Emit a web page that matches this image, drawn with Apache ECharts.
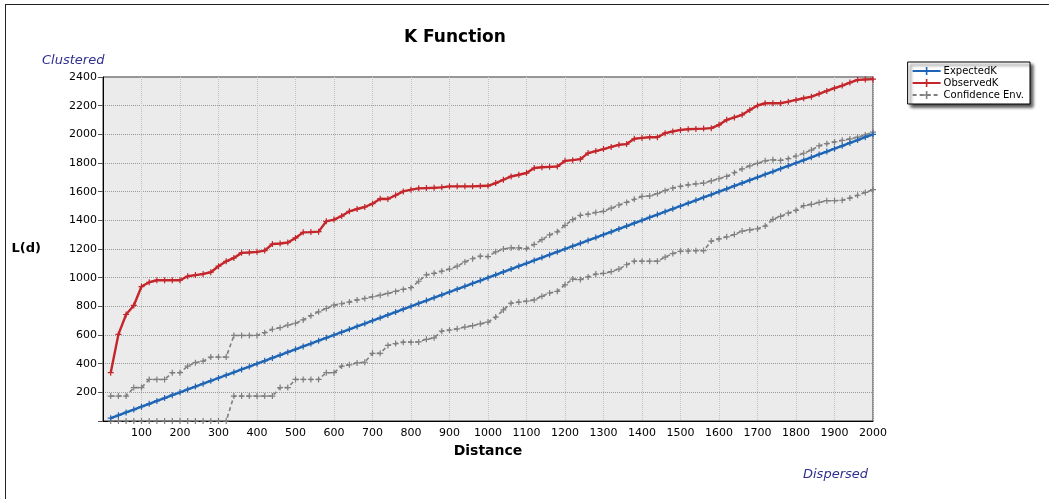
<!DOCTYPE html>
<html>
<head>
<meta charset="utf-8">
<script src="https://cdn.jsdelivr.net/npm/echarts@6/dist/echarts.min.js"></script>
<style>
html,body{margin:0;padding:0;background:#fff;}
#chart{width:1049px;height:499px;}
</style>
</head>
<body>
<div id="chart"></div>
<script>
// Distance bands
const distances = [20,40,60,80,100,120,140,160,180,200,220,240,260,280,300,320,340,360,380,400,
420,440,460,480,500,520,540,560,580,600,620,640,660,680,700,720,740,760,780,800,
820,840,860,880,900,920,940,960,980,1000,1020,1040,1060,1080,1100,1120,1140,1160,1180,1200,
1220,1240,1260,1280,1300,1320,1340,1360,1380,1400,1420,1440,1460,1480,1500,1520,1540,1560,1580,1600,
1620,1640,1660,1680,1700,1720,1740,1760,1780,1800,1820,1840,1860,1880,1900,1920,1940,1960,1980,2000];

const expectedK = [20,40,60,80,100,120,140,160,180,200,220,240,260,280,300,320,340,360,380,400,
420,440,460,480,500,520,540,560,580,600,620,640,660,680,700,720,740,760,780,800,
820,840,860,880,900,920,940,960,980,1000,1020,1040,1060,1080,1100,1120,1140,1160,1180,1200,
1220,1240,1260,1280,1300,1320,1340,1360,1380,1400,1420,1440,1460,1480,1500,1520,1540,1560,1580,1600,
1620,1640,1660,1680,1700,1720,1740,1760,1780,1800,1820,1840,1860,1880,1900,1920,1940,1960,1980,2000];

const observedK = [337,604,743,806,938,968,982,982,982,982,1010,1018,1026,1038,1080,1114,1138,1173,1176,1180,
1189,1235,1238,1245,1277,1316,1318,1321,1393,1405,1430,1463,1479,1493,1516,1551,1549,1575,1602,1614,
1623,1625,1627,1630,1637,1637,1637,1637,1640,1641,1660,1683,1706,1718,1730,1765,1770,1773,1776,1815,
1820,1827,1869,1883,1897,1912,1927,1932,1969,1975,1980,1980,2008,2020,2031,2035,2038,2040,2043,2066,
2101,2118,2136,2170,2201,2217,2217,2217,2228,2240,2252,2263,2283,2303,2322,2340,2361,2380,2383,2385];

const confUpper = [174,174,174,233,233,290,290,290,337,337,383,407,418,446,446,446,597,597,597,597,
616,640,651,669,682,705,735,762,785,808,818,830,845,855,867,878,890,904,918,930,
975,1020,1030,1045,1060,1080,1110,1132,1150,1147,1180,1200,1208,1208,1203,1232,1265,1298,1320,1365,
1405,1435,1443,1455,1463,1485,1507,1525,1547,1567,1570,1587,1607,1625,1637,1648,1655,1660,1675,1690,
1706,1732,1759,1780,1798,1815,1822,1818,1830,1849,1868,1890,1920,1935,1947,1958,1968,1980,1996,2015];

const confLower = [0,0,0,0,0,0,0,0,0,0,0,0,0,0,0,0,174,174,174,174,
174,174,233,233,290,290,290,290,337,337,383,392,405,410,472,472,527,540,550,550,
552,570,580,627,635,643,655,665,678,690,725,775,822,830,836,845,870,893,905,950,
990,987,1005,1025,1030,1042,1060,1090,1115,1115,1115,1115,1143,1168,1184,1186,1188,1189,1255,1270,
1285,1301,1325,1333,1341,1360,1407,1428,1450,1470,1502,1512,1525,1537,1537,1540,1555,1575,1595,1614];

const xTicks = {min: 0, max: 2000, step: 100};
const yTicks = {min: 0, max: 2400, step: 200};

const pair = (ys) => distances.map((d, i) => [d, ys[i]]);
const plus = 'path://M4,0H6V4H10V6H6V10H4V6H0V4H4Z';
const FONT = '"DejaVu Sans", Verdana, sans-serif';

const chart = echarts.init(document.getElementById('chart'), null, {renderer: 'canvas'});

function lineSeries(name, data, color, dashed) {
  return {
    name: name,
    type: 'line',
    data: data,
    symbol: plus,
    symbolSize: 6,
    showSymbol: true,
    animation: false,
    itemStyle: {color: color},
    lineStyle: {color: color, width: dashed ? 1.6 : 2.4, type: dashed ? [4, 3] : 'solid'},
    emphasis: {disabled: true},
    z: dashed ? 2 : 3
  };
}

chart.setOption({
  animation: false,
  backgroundColor: '#ffffff',
  title: {
    text: 'K Function',
    left: 399,
    top: 24,
    textStyle: {fontFamily: FONT, fontSize: 17, fontWeight: 'bold', color: '#000'}
  },
  legend: {
    orient: 'vertical',
    right: 19,
    top: 62,
    padding: [4, 6, 4, 4],
    itemGap: 2,
    itemWidth: 28,
    itemHeight: 10,
    backgroundColor: '#ffffff',
    borderColor: '#000',
    borderWidth: 1,
    borderRadius: 0,
    shadowColor: 'rgba(0,0,0,0.7)',
    shadowBlur: 3,
    shadowOffsetX: 3,
    shadowOffsetY: 3,
    textStyle: {fontFamily: FONT, fontSize: 10, color: '#000', padding: [0, 0, 0, -2]},
    data: ['ExpectedK', 'ObservedK', 'Confidence Env.']
  },
  grid: {left: 103, right: 176, top: 77, bottom: 78, show: true, backgroundColor: '#ebebeb', borderColor: '#333', borderWidth: 1},
  xAxis: {
    type: 'value',
    min: xTicks.min, max: xTicks.max, interval: xTicks.step,
    name: 'Distance',
    nameLocation: 'middle',
    nameGap: 23,
    nameTextStyle: {fontFamily: FONT, fontSize: 14, fontWeight: 'bold', color: '#000'},
    axisLine: {show: true, lineStyle: {color: '#000', width: 1}},
    axisTick: {show: false},
    axisLabel: {fontFamily: FONT, fontSize: 11, color: '#000', margin: 7,
      formatter: v => (v === 0 ? '' : String(v))},
    splitLine: {show: true, lineStyle: {color: '#c4c4c4', type: [1, 1], width: 1}}
  },
  yAxis: {
    type: 'value',
    min: yTicks.min, max: yTicks.max, interval: yTicks.step,
    name: 'L(d)',
    nameLocation: 'middle',
    nameRotate: 0,
    nameGap: 62,
    nameTextStyle: {fontFamily: FONT, fontSize: 13, fontWeight: 'bold', color: '#000'},
    axisLine: {show: true, lineStyle: {color: '#000', width: 1}},
    axisTick: {show: true, length: 5, lineStyle: {color: '#555'}},
    axisLabel: {fontFamily: FONT, fontSize: 11, color: '#000', margin: 6,
      formatter: v => (v === 0 ? '' : String(v))},
    splitLine: {show: true, lineStyle: {color: '#9a9a9a', type: [1, 1], width: 1}}
  },
  graphic: [
    {type: 'line', shape: {x1: 5, y1: 4.5, x2: 1049, y2: 4.5}, style: {stroke: '#222', lineWidth: 1}},
    {type: 'line', shape: {x1: 5.5, y1: 4, x2: 5.5, y2: 499}, style: {stroke: '#222', lineWidth: 1}},
    {type: 'text', left: 42, top: 54, style: {text: 'Clustered', fill: '#2f2f8f', font: 'italic 13px ' + FONT}},
    {type: 'text', left: 803, top: 468, style: {text: 'Dispersed', fill: '#2f2f8f', font: 'italic 13px ' + FONT}}
  ],
  series: [
    lineSeries('ExpectedK', pair(expectedK), '#1f65b5', false),
    lineSeries('ObservedK', pair(observedK), '#c4262b', false),
    lineSeries('Confidence Env.', pair(confUpper), '#7f7f7f', true),
    lineSeries('Confidence Env.', pair(confLower), '#7f7f7f', true)
  ]
});
</script>
</body>
</html>
